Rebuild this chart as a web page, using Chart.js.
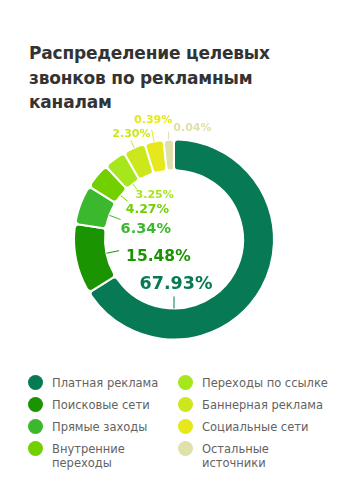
<!DOCTYPE html>
<html lang="ru">
<head>
<meta charset="utf-8">
<script src="https://cdn.jsdelivr.net/npm/chart.js@4.4.1/dist/chart.umd.min.js"></script>
<style>
    html, body { margin: 0; padding: 0; background: #fff; }
    body { width: 349px; height: 500px; position: relative; overflow: hidden; font-family: 'DejaVu Sans', sans-serif; }
    .title { position: absolute; left: 29px; top: 41px; margin: 0; font-size: 17px; letter-spacing: -0.2px; font-weight: bold; line-height: 24.5px; color: #333; }
    .chart-box { position: absolute; left: 0; top: 0; width: 349px; height: 360px; }
    .legend { position: absolute; left: 0; top: 375px; width: 349px; }
    .legend-item { position: absolute; display: flex; align-items: flex-start; font-size: 11.5px; line-height: 14px; color: #636363; }
    .legend-dot { width: 15px; height: 15px; border-radius: 50%; flex: none; margin-right: 9px; }
    .legend-text { margin-top: 1px; }
</style>
</head>
<body>
<h1 class="title">Распределение целевых<br>звонков по рекламным<br>каналам</h1>
<div class="chart-box"><canvas id="ringChart"></canvas></div>
<div class="legend" id="legend"></div>

<script>
// Data
const channels = ['Платная реклама', 'Поисковые сети', 'Прямые заходы', 'Внутренние переходы',
    'Переходы по ссылке', 'Баннерная реклама', 'Социальные сети', 'Остальные источники'];
const shares = [67.93, 15.48, 6.34, 4.27, 3.25, 2.30, 0.39, 0.04];
// size of each ring segment as drawn in the picture (degrees, small ones are enlarged there)
const arcDegrees = [238, 41, 23, 15, 13, 13, 11, 6];
const colors = ['#077a55', '#1a9400', '#3bb82d', '#72d000', '#a5e61c', '#cce71c', '#e6e81c', '#e0e0aa'];

// Label placement: leader from ring edge (inner or outer), then text offset from leader end
const labelLayout = [
    { angle: 180, out: false, len: 12, dx: 2, dy: -12, align: 'center', size: 17.5 },
    { out: false, len: 13, dx: 7, dy: 6, align: 'left', size: 15.5 },
    { out: false, len: 12, dx: 0, dy: 10, align: 'left', size: 14.5 },
    { out: false, len: 9, dx: -2, dy: 8, align: 'left', size: 12.5 },
    { out: false, len: 7, dx: -1.5, dy: 5.5, align: 'left', size: 11 },
    { out: true, len: 8, dx: 0.5, dy: -6.5, align: 'center', size: 11 },
    { out: true, len: 12, dx: 1.5, dy: -10, align: 'center', size: 11 },
    { out: true, len: 8, dx: 5, dy: -3.5, align: 'left', size: 11 }
];

// Legend
const legend = document.getElementById('legend');
channels.forEach((name, i) => {
    const col = i < 4 ? 0 : 1;
    const row = i % 4;
    const item = document.createElement('div');
    item.className = 'legend-item';
    item.style.left = (col ? 178 : 28) + 'px';
    item.style.top = (row * 21.9) + 'px';
    item.innerHTML = `<span class="legend-dot" style="background:${colors[i]}"></span>
        <span class="legend-text" style="width:${col ? 130 : 112}px">${name}</span>`;
    legend.appendChild(item);
});

// Percent labels with leader lines
const ringLabels = {
    id: 'ringLabels',
    afterDatasetsDraw(chart) {
        const ctx = chart.ctx;
        const meta = chart.getDatasetMeta(0);
        meta.data.forEach((arc, i) => {
            const p = arc.getProps(['x', 'y', 'startAngle', 'endAngle', 'innerRadius', 'outerRadius']);
            const lay = labelLayout[i];
            const a = lay.angle != null ? (lay.angle - 90) * Math.PI / 180 : (p.startAngle + p.endAngle) / 2;
            const r0 = lay.out ? p.outerRadius : p.innerRadius;
            const r1 = lay.out ? r0 + lay.len : r0 - lay.len;
            const x0 = p.x + Math.cos(a) * r0, y0 = p.y + Math.sin(a) * r0;
            const x1 = p.x + Math.cos(a) * r1, y1 = p.y + Math.sin(a) * r1;

            ctx.save();
            ctx.strokeStyle = colors[i];
            ctx.lineWidth = 1;
            ctx.beginPath();
            ctx.moveTo(x0, y0);
            ctx.lineTo(x1, y1);
            ctx.stroke();

            ctx.fillStyle = colors[i];
            ctx.font = `bold ${lay.size}px "DejaVu Sans", sans-serif`;
            ctx.textAlign = lay.align;
            ctx.textBaseline = 'middle';
            ctx.fillText(shares[i].toFixed(2) + '%', x1 + lay.dx, y1 + lay.dy);
            ctx.restore();
        });
    }
};

new Chart(document.getElementById('ringChart'), {
    type: 'doughnut',
    data: {
        labels: channels,
        datasets: [{
            data: arcDegrees,
            backgroundColor: colors,
            borderColor: '#fff',
            borderWidth: 2,
            borderRadius: 4
        }]
    },
    options: {
        responsive: true,
        maintainAspectRatio: false,
        animation: false,
        events: [],
        cutout: '69%',
        layout: { padding: { left: 73, right: 74, top: 138, bottom: 19 } },
        plugins: { legend: { display: false }, tooltip: { enabled: false } }
    },
    plugins: [ringLabels]
});
</script>
</body>
</html>
